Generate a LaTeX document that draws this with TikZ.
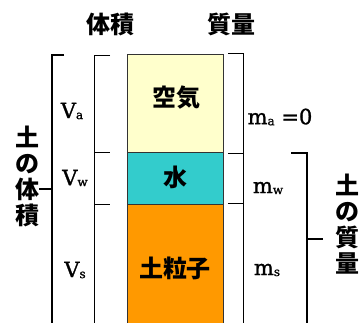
\documentclass[tikz,border=0pt]{standalone}
\usepackage{fontspec}
\newfontfamily\jp{Noto Sans CJK JP}
\newfontfamily\lat{DejaVu Serif}[FakeBold=1.2]
\definecolor{airc}{HTML}{FFFFCC}
\definecolor{waterc}{HTML}{33CCCC}
\definecolor{soilc}{HTML}{FF9900}
\begin{document}
\begin{tikzpicture}[x=1pt,y=-1pt,
  jtext/.style={font=\jp\bfseries\fontsize{24}{26}\selectfont, inner sep=0pt, align=center},
  ltext/.style={font=\lat\fontsize{21}{22}\selectfont, inner sep=0pt},
  brk/.style={line width=0.9pt, black},
  bigbrk/.style={line width=1.4pt, black},
  part/.style={draw=black!80, line width=0.8pt}]
\useasboundingbox (0,0) rectangle (362,322);
\begin{scope}
\clip (0,0) rectangle (362,322);
% column
\filldraw[part, fill=airc] (127,54) rectangle (223,152);
\filldraw[part, fill=waterc] (127,152) rectangle (223,204);
\filldraw[part, fill=soilc] (127,204) rectangle (223,330);
% brackets
\draw[bigbrk] (64,55) -- (52,55) -- (52,330);
\draw[bigbrk] (39,189) -- (52,189);
\draw[brk] (110,55) -- (94,55) -- (94,330);
\draw[brk] (94,152) -- (110,152);
\draw[brk] (94,204) -- (110,204);
\draw[brk] (228,53) -- (243,53) -- (243,330);
\draw[brk] (228,153) -- (243,153);
\draw[brk] (228,203) -- (243,203);
\draw[bigbrk] (291,153) -- (307,153) -- (307,330);
\draw[bigbrk] (307,239) -- (323,239);
\end{scope}
% labels
\node[jtext] (tv) at (110,24) {体積};
\node[jtext] (tm) at (231,24) {質量};
\node[jtext] (air) at (176,98) {空気};
\node[jtext] (wat) at (175,177) {水};
\node[jtext] (soil) at (175,268) {土粒子};
\node[jtext] (vol) at (28,176) {土\\の\\体\\積};
\node[jtext] (mass) at (347,224) {土\\の\\質\\量};
\node[ltext] (va) at (72,111) {V\raisebox{-1pt}{\fontsize{12}{12}\selectfont a}};
\node[ltext] (vw) at (75,178) {V\raisebox{-1pt}{\fontsize{12}{12}\selectfont w}};
\node[ltext] (vs) at (75,270) {V\raisebox{-1pt}{\fontsize{12}{12}\selectfont s}};
\node[ltext] (ma) at (280,117) {m\raisebox{-1pt}{\fontsize{12}{12}\selectfont a} =0};
\node[ltext] (mw) at (268,188) {m\raisebox{-1pt}{\fontsize{12}{12}\selectfont w}};
\node[ltext] (ms) at (267,270) {m\raisebox{-1pt}{\fontsize{12}{12}\selectfont s}};
\end{tikzpicture}
\end{document}
